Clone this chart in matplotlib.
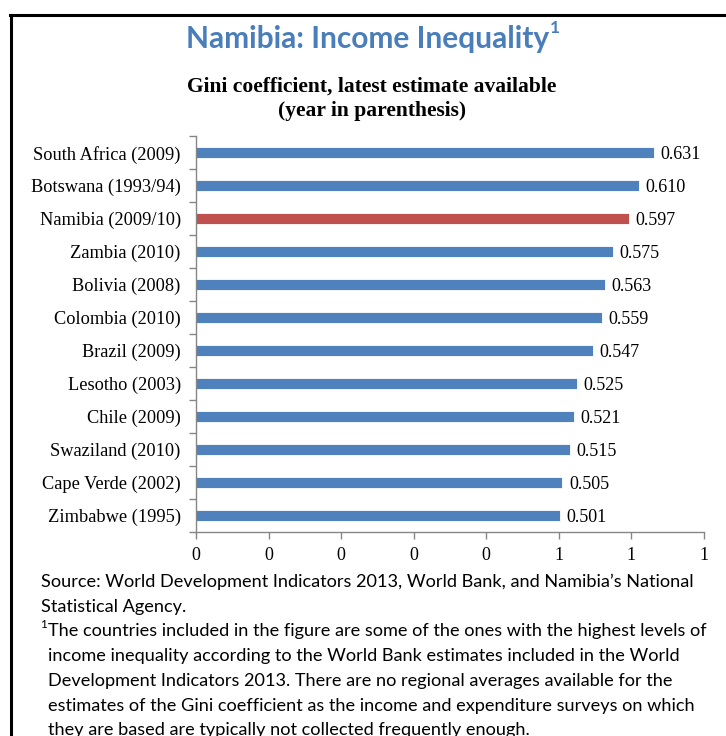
import matplotlib
matplotlib.use("Agg")
import matplotlib.pyplot as plt
from matplotlib.lines import Line2D
import numpy as np

# Gini coefficients, latest estimate available (year in parenthesis)
countries = [
    "South Africa (2009)", "Botswana (1993/94)", "Namibia (2009/10)",
    "Zambia (2010)", "Bolivia (2008)", "Colombia (2010)", "Brazil (2009)",
    "Lesotho (2003)", "Chile (2009)", "Swaziland (2010)",
    "Cape Verde (2002)", "Zimbabwe (1995)",
]
gini = [0.631, 0.610, 0.597, 0.575, 0.563, 0.559, 0.547,
        0.525, 0.521, 0.515, 0.505, 0.501]
highlight = "Namibia (2009/10)"

x_ticks = [0.0, 0.1, 0.2, 0.3, 0.4, 0.5, 0.6, 0.7]
x_tick_labels = ["0", "0", "0", "0", "0", "1", "1", "1"]

title = "Namibia: Income Inequality"
subtitle = "Gini coefficient, latest estimate available\n(year in parenthesis)"
source_lines = [
    "Source: World Development Indicators 2013, World Bank, and Namibia\u2019s National",
    "Statistical Agency.",
]
note_lines = [
    "The countries included in the figure are some of the ones with the highest levels of",
    "income inequality according to the World Bank estimates included in the World",
    "Development Indicators 2013. There are no regional averages available for the",
    "estimates of the Gini coefficient as the income and expenditure surveys on which",
    "they are based are typically not collected frequently enough.",
]

BLUE = "#4f81bd"
RED = "#c0504d"
AXIS = "#868686"
TITLE_BLUE = "#4a7ebb"
SERIF = "Liberation Serif"
SANS = "Lato"

W, H = 726, 736
fig = plt.figure(figsize=(W / 100, H / 100), dpi=100)


def fx(px):
    return px / W


def fy(py):
    return 1 - py / H


ax = fig.add_axes([fx(196), fy(532), fx(704) - fx(196), fy(136) - fy(532)])

ypos = np.arange(len(countries))
colors = [RED if c == highlight else BLUE for c in countries]
ax.barh(ypos, gini, height=0.32, color=colors, edgecolor="white", linewidth=0.6)
for y, v in zip(ypos, gini):
    ax.text(v + 0.009, y + 0.07, f"{v:.3f}", ha="left", va="center",
            family=SERIF, fontsize=13, color="black")

ax.set_ylim(len(countries) - 0.5, -0.5)
ax.set_xlim(0, 0.7)
ax.set_yticks(ypos)
ax.set_yticklabels(countries, family=SERIF, fontsize=13.2)
ax.set_yticks(np.arange(len(countries) + 1) - 0.5, minor=True)
ax.tick_params(axis="y", which="major", length=0, pad=11)
ax.tick_params(axis="y", which="minor", length=5, color=AXIS, width=1)
ax.set_xticks(x_ticks)
ax.set_xticklabels(x_tick_labels, family=SERIF, fontsize=13)
ax.tick_params(axis="x", length=5, color=AXIS, width=1, pad=6)

for side in ("top", "right"):
    ax.spines[side].set_visible(False)
for side in ("left", "bottom"):
    ax.spines[side].set_color(AXIS)
    ax.spines[side].set_linewidth(1)

# Page frame (top and left edges)
fig.add_artist(Line2D([fx(11), fx(11)], [fy(15), fy(736)], color="black", lw=2.2))
fig.add_artist(Line2D([fx(10), fx(726)], [fy(15), fy(15)], color="black", lw=2.2))

# Titles
t = fig.text(fx(368), fy(39), title, ha="center", va="center", family=SANS,
             fontweight="bold", fontsize=21.5, color=TITLE_BLUE)
fig.add_artist(plt.Annotation("1", xy=(1.0, 0.6), xycoords=t, ha="left", va="bottom",
                              family=SANS, fontweight="bold", fontsize=12.5,
                              color=TITLE_BLUE))
fig.text(fx(372), fy(99), subtitle, ha="center", va="center", family=SERIF,
         fontweight="bold", fontsize=15.5, linespacing=1.3)

# Source and note
line_h = 24.7
y0 = 582
for i, line in enumerate(source_lines):
    fig.text(fx(41), fy(y0 + i * line_h), line, ha="left", va="center",
             family=SANS, fontsize=13.1)
for i, line in enumerate(note_lines):
    yy = y0 + (i + 2) * line_h
    fig.text(fx(48), fy(yy), line, ha="left", va="center",
             family=SANS, fontsize=13.1)
fig.text(fx(40), fy(y0 + 2 * line_h - 7), "1", ha="left", va="center",
         family=SANS, fontsize=8.5)

fig.savefig("out.png", dpi=100)
